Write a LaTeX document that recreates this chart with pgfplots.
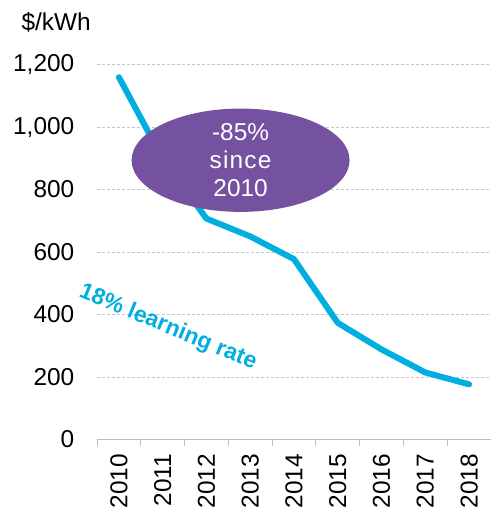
\documentclass[border=0pt]{standalone}
\usepackage{fontspec}
\setmainfont{Liberation Sans}
\usepackage{pgfplots}
\pgfplotsset{compat=1.18}
\usetikzlibrary{shapes.geometric}
\definecolor{linecyan}{HTML}{00AEDF}
\definecolor{ovalpurple}{HTML}{7552A0}
\definecolor{gridgray}{HTML}{C6C6C6}
\definecolor{axisgray}{HTML}{BDBDBD}

\begin{document}
\begin{tikzpicture}
\begin{axis}[
    at={(0,0)}, anchor=south west,
    scale only axis,
    width=394bp, height=374.6bp,
    xmin=-0.5, xmax=8.5,
    ymin=0, ymax=1200,
    clip=false,
    axis x line*=bottom,
    axis y line*=left,
    y axis line style={draw=none},
    x axis line style={draw=axisgray, line width=0.8pt},
    xtick={0,...,8},
    xticklabels={2010,2011,2012,2013,2014,2015,2016,2017,2018},
    major x tick style={draw=none},
    minor xtick={-0.5,0.5,...,8.5},
    minor x tick style={draw=axisgray, line width=0.8pt},
    minor tick length=7bp,
    tick align=outside,
    ytick={0,200,...,1200},
    ytick style={draw=none},
    ymajorgrids,
    grid style={draw=gridgray, dash pattern=on 3pt off 2pt, line width=0.6pt},
    tick label style={font=\fontsize{24.5}{27}\selectfont, text=black},
    xticklabel style={rotate=90, anchor=east, xshift=-7bp},
    yticklabel style={xshift=-15bp},
    /pgf/number format/.cd, assume math mode=true, 1000 sep={,},
]
% battery pack price, $/kWh
\addplot[draw=linecyan, line width=6bp, line join=round, line cap=round]
    coordinates {
        (0, 1160)
        (1, 899)
        (2, 707)
        (3, 650)
        (4, 577)
        (5, 373)
        (6, 288)
        (7, 214)
        (8, 176)
    };

\node[ellipse, fill=ovalpurple, minimum width=218bp, minimum height=89bp,
      inner sep=0pt, text=white, align=center,
      font=\fontsize{24.5}{28}\selectfont]
    at (axis cs:2.78,894) {-85\%\\{\addfontfeatures{LetterSpace=5}since}\\2010};

\node[rotate=-22.5, text=linecyan, font=\bfseries\fontsize{23}{26}\selectfont]
    at (axis cs:1.12,358) {18\% learning rate};
\end{axis}

\node[anchor=west, font=\fontsize{24.5}{27}\selectfont] at (-79bp,417bp) {\$/kWh};

\pgfresetboundingbox
\path[use as bounding box] (-97bp,-71.7bp) rectangle (394bp,439.3bp);
\end{tikzpicture}
\end{document}
